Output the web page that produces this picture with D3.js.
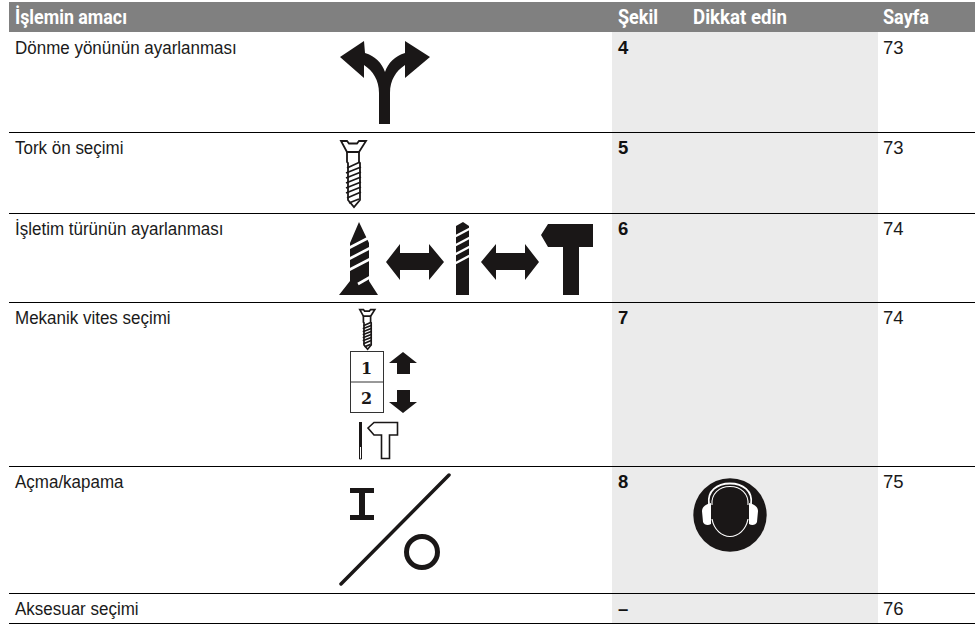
<!DOCTYPE html>
<html>
<head>
<meta charset="utf-8">
<style>
	html, body { margin: 0; padding: 0; background: #fff; }
	svg { display: block; }
</style>
<script src="https://cdn.jsdelivr.net/npm/d3@7"></script>
</head>
<body>
<div id="chart"></div>
<script>
'use strict';

const headers = ['İşlemin amacı', 'Şekil', 'Dikkat edin', 'Sayfa'];
const tasks = [
	'Dönme yönünün ayarlanması',
	'Tork ön seçimi',
	'İşletim türünün ayarlanması',
	'Mekanik vites seçimi',
	'Açma/kapama',
	'Aksesuar seçimi'
];
const figures = ['4', '5', '6', '7', '8', '–'];
const pages = ['73', '73', '74', '74', '75', '76'];

const dimensions = { width: 975, height: 627 };
const rowEdges = [32, 132, 213, 302, 466, 593, 623];
const font = '"Liberation Sans", sans-serif';

const svg = d3.select('#chart').append('svg')
	.attr('width', dimensions.width)
	.attr('height', dimensions.height);

const rowTop = d3.scaleOrdinal(tasks, rowEdges);

// header band and shaded column
svg.append('rect').attr('x', 9).attr('y', 2).attr('width', 966).attr('height', 30).attr('fill', '#808080');
svg.append('rect').attr('x', 612).attr('y', 32).attr('width', 266).attr('height', 591).attr('fill', '#ebebeb');

svg.selectAll('line.rule')
	.data(rowEdges.slice(1))
	.join('line')
	.attr('class', 'rule')
	.attr('x1', 9).attr('x2', 975)
	.attr('y1', d => d + 0.5).attr('y2', d => d + 0.5)
	.attr('stroke', '#000').attr('stroke-width', 1);

// squeezes a label, the original face is a bit narrower than ours
function squeeze(sel, ratio) {
	sel.each(function() {
		const len = this.getComputedTextLength();
		d3.select(this).attr('textLength', len * ratio).attr('lengthAdjust', 'spacingAndGlyphs');
	});
}

const headX = [15, 618, 693, 883];
const headW = [112, 40, 94, 46];
svg.selectAll('text.head')
	.data(headers)
	.join('text')
	.attr('class', 'head')
	.attr('x', (d, i) => headX[i]).attr('y', 24)
	.attr('fill', '#fff')
	.style('font-family', 'Roboto, sans-serif')
	.style('font-weight', 'bold')
	.style('font-size', '21px')
	.attr('textLength', (d, i) => headW[i])
	.attr('lengthAdjust', 'spacingAndGlyphs')
	.text(d => d);

svg.selectAll('text.task')
	.data(tasks)
	.join('text')
	.attr('class', 'task')
	.attr('x', 15).attr('y', d => rowTop(d) + 22)
	.attr('fill', '#1a1a1a')
	.style('font-family', font)
	.style('font-size', '17.5px')
	.text(d => d)
	.call(squeeze, 0.97);

svg.selectAll('text.fig')
	.data(figures)
	.join('text')
	.attr('class', 'fig')
	.attr('x', 618).attr('y', (d, i) => rowEdges[i] + 22)
	.attr('fill', '#111')
	.style('font-family', font)
	.style('font-weight', 'bold')
	.style('font-size', '18.5px')
	.text(d => d);

svg.selectAll('text.page')
	.data(pages)
	.join('text')
	.attr('class', 'page')
	.attr('x', 883).attr('y', (d, i) => rowEdges[i] + 22)
	.attr('fill', '#1a1a1a')
	.style('font-family', font)
	.style('font-size', '18.5px')
	.text(d => d);

// ---- icons, these are glyph outlines and not data ----
const ink = '#1a1717';
const icons = svg.append('g').attr('class', 'icons');

function solid(d) {
	return icons.append('path').attr('d', d).attr('fill', ink);
}
function outline(d, w) {
	return icons.append('path').attr('d', d).attr('fill', 'none').attr('stroke', ink).attr('stroke-width', w);
}
function whiteLine(d, w) {
	return icons.append('path').attr('d', d).attr('fill', 'none').attr('stroke', '#fff').attr('stroke-width', w);
}

// fork arrow
solid('M379,124 L379,93 C379,80 373,71 364,65 L364,78 L340,57 L364,41 L365,53 C375,56 382,63 385,72 C388,63 395,56 405,53 L405,41 L430,57 L405,78 L405,65 C396,71 390,80 390,93 L390,124 Z');

// open screw, drawn around its own origin so it can be reused
function screw(x, y, k, w) {
	const g = icons.append('g').attr('transform', `translate(${x},${y}) scale(${k})`)
		.attr('fill', 'none').attr('stroke', ink).attr('stroke-width', w);
	g.append('path').attr('d', 'M-12,1 L-6,1 L-4,3.5 L4,3.5 L6,1 L13,1 L6,12 L6,22 L7,23 L7,60 L1,67 L-5,60 L-5,23 L-6,22 L-6,12 Z').attr('fill', '#fff');
	g.append('path').attr('d', 'M-7,12 L7,12 M-6,28 L7,22 M-7,33 L8,27 M-7,38 L8,32 M-7,43 L8,37 M-7,48 L8,42 M-7,53 L8,47 M-6,58 L8,52 M-4,63 L6,59');
}
screw(353, 140, 1, 1.8);
screw(367, 309, 0.6, 2.8);

// solid screw
solid('M359,222 L369,243 L369,281 L378,295 L339,295 L350,281 L350,243 Z');
whiteLine('M347,249 L372,236 M347,260 L372,247 M347,271 L372,258 M358,284 L372,276', 2.6);

function doubleArrow(a, b, c, d) {
	solid(`M${a},262 L${b},244 L${b},253 L${c},253 L${c},244 L${d},262 L${c},280 L${c},270 L${b},270 L${b},280 Z`);
}
doubleArrow(386, 400, 429, 444);
doubleArrow(481, 496, 525, 539);

// drill bit
solid('M456,226 L463,222 L469,226 L469,295 L456,295 Z');
whiteLine('M454,237 L471,228 M454,246 L471,237 M454,255 L471,246 M454,264 L471,255', 2.4);

// hammer, head overhangs the stem on both sides
solid('M548,224 L593,224 L593,247 L579,247 L579,295 L563,295 L563,247 L548,247 L541,235 Z');

// gear boxes
icons.append('rect').attr('x', 350.5).attr('y', 351.5).attr('width', 33).attr('height', 61)
	.attr('fill', 'none').attr('stroke', '#333').attr('stroke-width', 1);
outline('M350,382 L384,382', 1).attr('stroke', '#333');
icons.selectAll('text.gear')
	.data(['1', '2'])
	.join('text')
	.attr('class', 'gear')
	.attr('x', 366.5).attr('y', (d, i) => 374 + i * 30)
	.attr('text-anchor', 'middle')
	.attr('fill', ink)
	.style('font-family', '"DejaVu Serif", serif')
	.style('font-weight', 'bold')
	.style('font-size', '16px')
	.text(d => d);
solid('M403,352 L417,363 L410,363 L410,374 L397,374 L397,363 L389,363 Z');
solid('M397,390 L410,390 L410,402 L417,402 L403,413 L389,402 L397,402 Z');

// small drill and hammer
solid('M359,422 L362,422 L362,447 L359,447 Z');
outline('M359.5,447 L359.5,459 L361.5,459 L361.5,447', 1);
outline('M374,422.5 L397.5,422.5 L397.5,435 L389.5,435 L389.5,458.5 L381.5,458.5 L381.5,435 L374,435 L368,428 Z', 1.6);

// on / off
solid('M350,488 L374,488 L374,493 L365,493 L365,515 L374,515 L374,520 L350,520 L350,515 L359,515 L359,493 L350,493 Z');
outline('M341,584 L449,475', 3.5).attr('stroke-linecap', 'round');
icons.append('circle').attr('cx', 422).attr('cy', 552).attr('r', 15.5)
	.attr('fill', 'none').attr('stroke', ink).attr('stroke-width', 5);

// ear protection sign
icons.append('circle').attr('cx', 730).attr('cy', 515).attr('r', 36.7).attr('fill', ink);
icons.append('path').attr('d', 'M711,503 C706,504 702,507 702,511 L703,522 C704,525 708,526 711,524 Z').attr('fill', '#fff');
icons.append('path').attr('d', 'M749,503 C754,504 758,507 758,511 L757,522 C756,525 752,526 749,524 Z').attr('fill', '#fff');
whiteLine('M709,504 C707,491 717,483.5 730,483.5 C743,483.5 753,491 751,504', 1.8);
whiteLine('M712,505 C711,494 719,486.5 730,486.5 C741,486.5 749,494 748,505', 1.1);
whiteLine('M712,519 C714,530 722,536.5 730,536.5 C738,536.5 746,530 748,519', 1.2);
</script>
</body>
</html>
